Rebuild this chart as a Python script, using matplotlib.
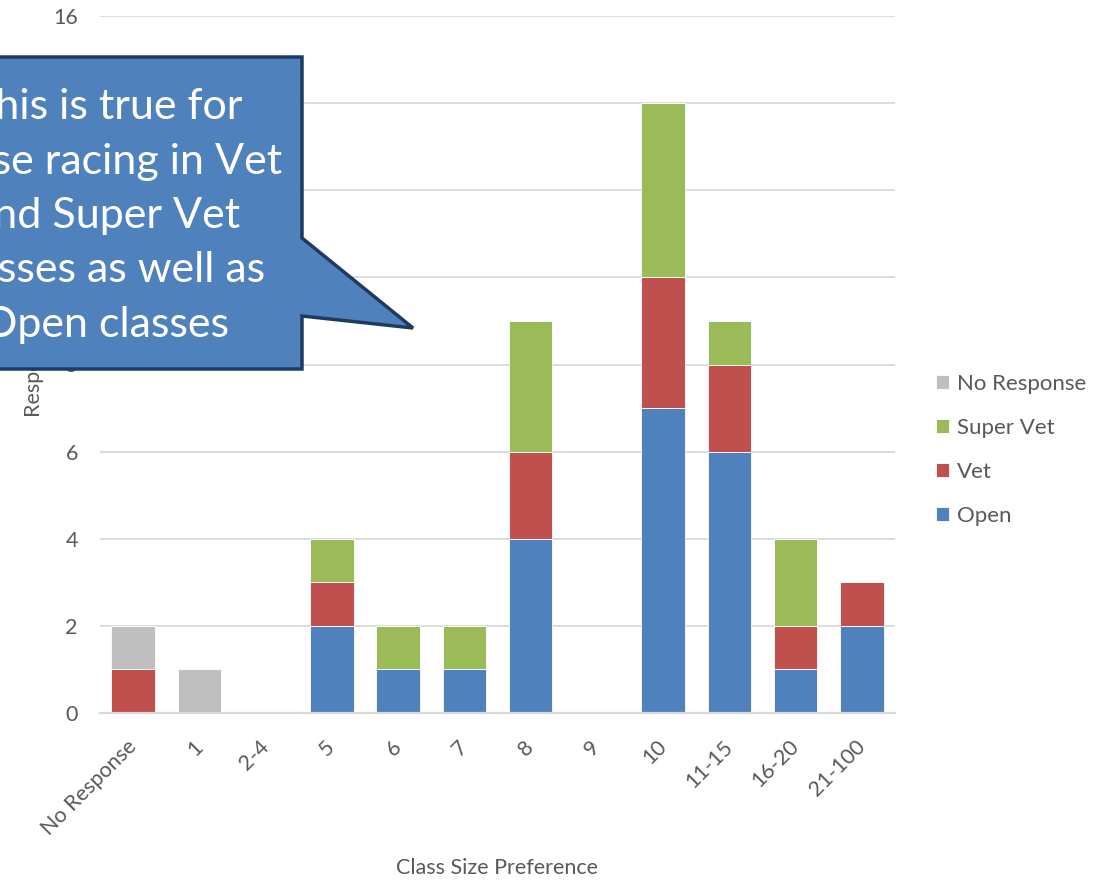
import matplotlib
matplotlib.use('Agg')
import matplotlib.pyplot as plt
from matplotlib.patches import Polygon
import numpy as np

categories	= ['No Response', '1', '2-4', '5', '6', '7', '8', '9', '10', '11-15', '16-20', '21-100']
open_vals	= [0, 0, 0, 2, 1, 1, 4, 0, 7, 6, 1, 2]
vet_vals	= [1, 0, 0, 1, 0, 0, 2, 0, 3, 2, 1, 1]
super_vals	= [0, 0, 0, 1, 1, 1, 3, 0, 4, 1, 2, 0]
noresp_vals	= [1, 1, 0, 0, 0, 0, 0, 0, 0, 0, 0, 0]

series = [('Open', open_vals, '#4F81BD'),
		  ('Vet', vet_vals, '#C0504D'),
		  ('Super Vet', super_vals, '#9BBB59'),
		  ('No Response', noresp_vals, '#BFBFBF')]

callout_text = 'This is true for\nthose racing in Vet\nand Super Vet\nclasses as well as\nOpen classes'

plt.rcParams['font.family'] = ['Lato', 'DejaVu Sans']
text_col = '#595959'

W, H = 1112, 881
fig = plt.figure(figsize=(W / 100, H / 100), dpi=100)

def px(x, y):
	# pixel position (from top-left) to figure fraction
	return (x / W, 1 - y / H)

ax = fig.add_axes([100 / W, 1 - 713 / H, 795 / W, 697 / H])

x = np.arange(len(categories))
bottom = np.zeros(len(categories))
for name, vals, col in series:
	ax.bar(x, vals, 0.66, bottom=bottom, color=col, edgecolor='white',
		   linewidth=0.6, label=name, zorder=3)
	bottom += np.array(vals)

ax.set_xlim(-0.5, len(categories) - 0.5)
ax.set_ylim(0, 16)
ax.set_yticks(range(0, 17, 2))
ax.grid(axis='y', color='#D9D9D9', lw=1.3, zorder=0)
for s in ['top', 'right', 'left']:
	ax.spines[s].set_visible(False)
ax.spines['bottom'].set_color('#D9D9D9')
ax.spines['bottom'].set_linewidth(1.6)
ax.spines['bottom'].set_zorder(4)

ax.set_xticks(x)
ax.set_xticklabels(categories, rotation=45, ha='right', va='center',
				   rotation_mode='anchor')
ax.tick_params(axis='x', length=0, pad=22, labelsize=15.5, labelcolor=text_col)
ax.tick_params(axis='y', length=0, pad=16, labelsize=15.5, labelcolor=text_col)

ax.set_xlabel('Class Size Preference', fontsize=15.5, color=text_col)
ax.xaxis.set_label_coords(0.5, -0.208)
ax.set_ylabel('Responses', fontsize=15.5, color=text_col)
ax.yaxis.set_label_coords(-0.073, 0.5)

handles, labels = ax.get_legend_handles_labels()
leg = fig.legend(handles[::-1], labels[::-1], loc='center left',
				 bbox_to_anchor=px(916, 450), frameon=False, fontsize=16,
				 handlelength=0.6, handleheight=0.6, handletextpad=0.35,
				 labelspacing=1.08, labelcolor=text_col)

# callout box
pts = [(-30, 57), (302, 57), (302, 238), (413, 328), (302, 316),
	   (302, 369), (-30, 369)]
poly = Polygon([px(*p) for p in pts], closed=True, transform=fig.transFigure,
			   facecolor='#4F81BD', edgecolor='#1F3A5F', lw=2.5, zorder=10,
			   joinstyle='miter')
fig.patches.append(poly)
fig.text(*px(106, 216), callout_text, ha='center', va='center', color='white',
		 fontsize=31, linespacing=1.53, zorder=11)

plt.savefig('out.png', dpi=100)
